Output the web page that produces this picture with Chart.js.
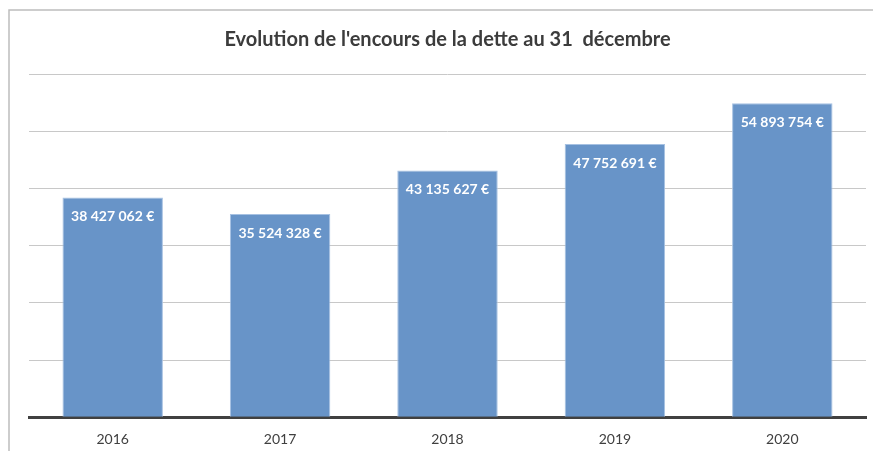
<!DOCTYPE html>
<html>
<head>
<meta charset="utf-8">
<script src="https://cdn.jsdelivr.net/npm/chart.js@4.4.1/dist/chart.umd.min.js"></script>
<style>
  html, body { margin: 0; padding: 0; background: #fff; overflow: hidden; }
  #wrap { width: 873px; height: 451px; position: relative; }
</style>
</head>
<body>
<div id="wrap"><canvas id="chart" width="873" height="451"></canvas></div>
<script>
const years = ['2016', '2017', '2018', '2019', '2020'];
const encours = [38427062, 35524328, 43135627, 47752691, 54893754];
const titleText = "Evolution de l'encours de la dette au 31  décembre";

const FONT = "Lato, 'Open Sans', sans-serif";

const formatEuro = (v) => String(v).replace(/\B(?=(\d{3})+(?!\d))/g, ' ') + ' €';

// outer frame of the chart, cut off at right and bottom
const framePlugin = {
  id: 'frame',
  beforeDraw(chart) {
    const { ctx } = chart;
    ctx.save();
    ctx.strokeStyle = '#bdbdbd';
    ctx.lineWidth = 1.5;
    ctx.beginPath();
    ctx.moveTo(9, chart.height + 5);
    ctx.lineTo(9, 10);
    ctx.lineTo(chart.width + 5, 10);
    ctx.stroke();
    ctx.restore();
  },
};

// value labels inside the top of each bar
const valueLabels = {
  id: 'valueLabels',
  afterDatasetsDraw(chart) {
    const { ctx } = chart;
    const meta = chart.getDatasetMeta(0);
    ctx.save();
    ctx.font = 'bold 14px ' + FONT;
    ctx.fillStyle = '#ffffff';
    ctx.textAlign = 'center';
    ctx.textBaseline = 'middle';
    meta.data.forEach((bar, i) => {
      ctx.fillText(formatEuro(encours[i]), bar.x, bar.y + 19);
    });
    ctx.restore();
  },
};

new Chart(document.getElementById('chart'), {
  type: 'bar',
  data: {
    labels: years,
    datasets: [{
      data: encours,
      backgroundColor: '#6894c8',
      borderColor: '#a6c1e2',
      borderWidth: 1,
      categoryPercentage: 1,
      barPercentage: 0.6,
    }],
  },
  options: {
    responsive: false,
    animation: false,
    layout: { padding: { left: 29, right: 7, top: 0, bottom: -11 } },
    plugins: {
      legend: { display: false },
      tooltip: { enabled: false },
      title: {
        display: true,
        text: titleText,
        color: '#3c3c3c',
        font: { family: FONT, size: 20, weight: 'bold' },
        padding: { top: 28, bottom: 22 },
      },
    },
    scales: {
      x: {
        grid: { display: false, drawTicks: false },
        border: { color: '#404040', width: 3 },
        ticks: {
          color: '#404040',
          font: { family: FONT, size: 14 },
          padding: 14,
        },
      },
      y: {
        min: 0,
        max: 60000000,
        ticks: { display: false, stepSize: 10000000 },
        border: { display: false },
        grid: { color: '#c8c8c8', lineWidth: 1, drawTicks: false },
      },
    },
  },
  plugins: [framePlugin, valueLabels],
});
</script>
</body>
</html>
